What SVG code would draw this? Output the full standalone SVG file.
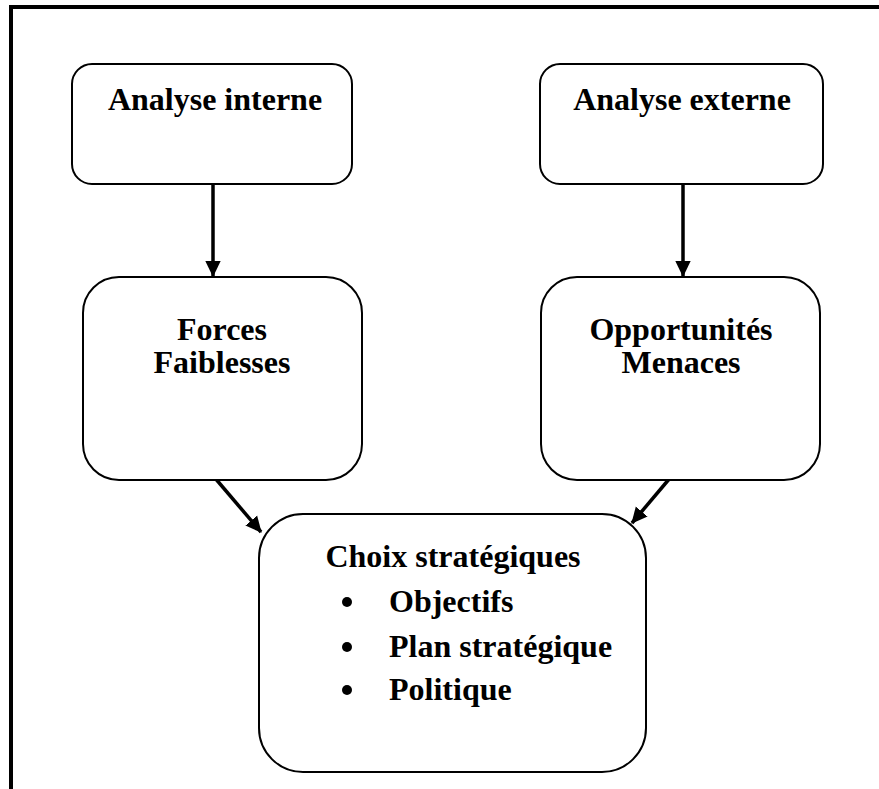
<svg xmlns="http://www.w3.org/2000/svg" width="879" height="789" viewBox="0 0 879 789">
<defs>
<style>
.box{fill:#fff;stroke:#000;stroke-width:2}
.t{font-family:"Liberation Serif","Times New Roman",serif;font-weight:bold;font-size:32px;fill:#000}
.c{stroke:#000;stroke-width:3.5;fill:none}
</style>
<marker id="ah" markerWidth="5" markerHeight="5" refX="4.3" refY="2.5" orient="auto" markerUnits="strokeWidth">
<path d="M0,0.3 L4.6,2.5 L0,4.7 Z" fill="#000"/>
</marker>
</defs>
<rect width="879" height="789" fill="#fff"/>
<path d="M11,789 L11,7 L879,7" fill="none" stroke="#000" stroke-width="4"/>
<g id="connectors">
<line class="c" x1="213" y1="184" x2="213" y2="276" marker-end="url(#ah)"/>
<line class="c" x1="683" y1="184" x2="683" y2="276" marker-end="url(#ah)"/>
<line class="c" x1="215" y1="478" x2="261" y2="532" marker-end="url(#ah)"/>
<line class="c" x1="670" y1="478" x2="632" y2="523" marker-end="url(#ah)"/>
</g>
<g id="analyse-interne">
<rect class="box" x="72" y="64" width="280" height="120" rx="20"/>
<text class="t" x="215" y="110" text-anchor="middle">Analyse interne</text>
</g>
<g id="analyse-externe">
<rect class="box" x="540" y="64" width="283" height="120" rx="20"/>
<text class="t" x="682" y="110" text-anchor="middle">Analyse externe</text>
</g>
<g id="forces-faiblesses">
<rect class="box" x="83" y="277" width="279" height="203" rx="36"/>
<text class="t" x="222" y="340" text-anchor="middle">Forces</text>
<text class="t" x="222" y="373" text-anchor="middle">Faiblesses</text>
</g>
<g id="opportunites-menaces">
<rect class="box" x="541" y="277" width="279" height="203" rx="36"/>
<text class="t" x="681" y="340" text-anchor="middle">Opportunités</text>
<text class="t" x="681" y="373" text-anchor="middle">Menaces</text>
</g>
<g id="choix-strategiques">
<rect class="box" x="259" y="514" width="387" height="258" rx="44"/>
<text class="t" x="453" y="567" text-anchor="middle">Choix stratégiques</text>
<circle cx="347" cy="602" r="5"/>
<circle cx="347" cy="647" r="5"/>
<circle cx="347" cy="690" r="5"/>
<text class="t" x="389" y="612">Objectifs</text>
<text class="t" x="389" y="657">Plan stratégique</text>
<text class="t" x="389" y="700">Politique</text>
</g>
</svg>
